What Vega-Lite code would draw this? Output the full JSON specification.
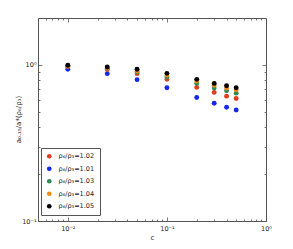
{
  "$schema": "https://vega.github.io/schema/vega-lite/v6.json",
  "autosize": "none",
  "padding": {"left": 38, "top": 18, "right": 27, "bottom": 28},
  "width": 228,
  "height": 203,
  "background": "white",
  "title": {"text": "a₀.₁₅/a*(ρ₆/ρ₃)", "orient": "left", "anchor": "middle", "fontSize": 7, "font": "DejaVu Sans", "fontWeight": "normal", "color": "#222", "offset": 0},
  "config": {
    "view": {"stroke": "#555555", "strokeWidth": 1},
    "font": "DejaVu Sans",
    "axis": {"domain": false, "grid": false, "labelFont": "DejaVu Sans", "titleFont": "DejaVu Sans", "labelFontSize": 6.5, "titleFontSize": 7, "labelColor": "#222", "titleColor": "#222", "titleFontWeight": "normal", "tickColor": "#555555", "tickWidth": 0.8}
  },
  "data": {"values": [
    {"c": 0.01, "series": "ρ₆/ρ₃=1.02", "v": 0.974},
    {"c": 0.025, "series": "ρ₆/ρ₃=1.02", "v": 0.934},
    {"c": 0.05, "series": "ρ₆/ρ₃=1.02", "v": 0.880},
    {"c": 0.1, "series": "ρ₆/ρ₃=1.02", "v": 0.809},
    {"c": 0.2, "series": "ρ₆/ρ₃=1.02", "v": 0.718},
    {"c": 0.3, "series": "ρ₆/ρ₃=1.02", "v": 0.667},
    {"c": 0.4, "series": "ρ₆/ρ₃=1.02", "v": 0.631},
    {"c": 0.5, "series": "ρ₆/ρ₃=1.02", "v": 0.610},
    {"c": 0.01, "series": "ρ₆/ρ₃=1.01", "v": 0.938},
    {"c": 0.025, "series": "ρ₆/ρ₃=1.01", "v": 0.880},
    {"c": 0.05, "series": "ρ₆/ρ₃=1.01", "v": 0.805},
    {"c": 0.1, "series": "ρ₆/ρ₃=1.01", "v": 0.715},
    {"c": 0.2, "series": "ρ₆/ρ₃=1.01", "v": 0.619},
    {"c": 0.3, "series": "ρ₆/ρ₃=1.01", "v": 0.569},
    {"c": 0.4, "series": "ρ₆/ρ₃=1.01", "v": 0.536},
    {"c": 0.5, "series": "ρ₆/ρ₃=1.01", "v": 0.514},
    {"c": 0.01, "series": "ρ₆/ρ₃=1.03", "v": 0.981},
    {"c": 0.025, "series": "ρ₆/ρ₃=1.03", "v": 0.948},
    {"c": 0.05, "series": "ρ₆/ρ₃=1.03", "v": 0.901},
    {"c": 0.1, "series": "ρ₆/ρ₃=1.03", "v": 0.837},
    {"c": 0.2, "series": "ρ₆/ρ₃=1.03", "v": 0.762},
    {"c": 0.3, "series": "ρ₆/ρ₃=1.03", "v": 0.711},
    {"c": 0.4, "series": "ρ₆/ρ₃=1.03", "v": 0.684},
    {"c": 0.5, "series": "ρ₆/ρ₃=1.03", "v": 0.660},
    {"c": 0.01, "series": "ρ₆/ρ₃=1.04", "v": 0.985},
    {"c": 0.025, "series": "ρ₆/ρ₃=1.04", "v": 0.956},
    {"c": 0.05, "series": "ρ₆/ρ₃=1.04", "v": 0.915},
    {"c": 0.1, "series": "ρ₆/ρ₃=1.04", "v": 0.862},
    {"c": 0.2, "series": "ρ₆/ρ₃=1.04", "v": 0.788},
    {"c": 0.3, "series": "ρ₆/ρ₃=1.04", "v": 0.740},
    {"c": 0.4, "series": "ρ₆/ρ₃=1.04", "v": 0.711},
    {"c": 0.5, "series": "ρ₆/ρ₃=1.04", "v": 0.694},
    {"c": 0.01, "series": "ρ₆/ρ₃=1.05", "v": 0.996},
    {"c": 0.025, "series": "ρ₆/ρ₃=1.05", "v": 0.971},
    {"c": 0.05, "series": "ρ₆/ρ₃=1.05", "v": 0.938},
    {"c": 0.1, "series": "ρ₆/ρ₃=1.05", "v": 0.884},
    {"c": 0.2, "series": "ρ₆/ρ₃=1.05", "v": 0.809},
    {"c": 0.3, "series": "ρ₆/ρ₃=1.05", "v": 0.762},
    {"c": 0.4, "series": "ρ₆/ρ₃=1.05", "v": 0.736},
    {"c": 0.5, "series": "ρ₆/ρ₃=1.05", "v": 0.715}
  ]},
  "resolve": {"axis": {"x": "independent", "y": "independent"}},
  "layer": [
    {
      "mark": {"type": "point", "filled": true, "opacity": 1, "size": 24, "shape": "circle"},
      "encoding": {
        "x": {"field": "c", "type": "quantitative",
          "scale": {"type": "log", "domain": [0.005, 1], "nice": false},
          "axis": {"orient": "bottom", "title": "c",
            "values": [0.006, 0.007, 0.008, 0.009, 0.01, 0.02, 0.03, 0.04, 0.05, 0.06, 0.07, 0.08, 0.09, 0.1, 0.2, 0.3, 0.4, 0.5, 0.6, 0.7, 0.8, 0.9, 1],
            "tickSize": {"condition": {"test": "datum.value == 0.01 || datum.value == 0.1 || datum.value == 1", "value": -4}, "value": -2},
            "labelExpr": "datum.value == 0.01 ? '10⁻²' : datum.value == 0.1 ? '10⁻¹' : datum.value == 1 ? '10⁰' : ''",
            "labelPadding": 8, "titleX": 114, "titleY": 16, "titleBaseline": "middle", "labelFlush": false, "labelOverlap": false}},
        "y": {"field": "v", "type": "quantitative",
          "scale": {"type": "log", "domain": [0.1, 2], "nice": false},
          "axis": {"orient": "left", "title": null,
            "values": [0.1, 0.2, 0.3, 0.4, 0.5, 0.6, 0.7, 0.8, 0.9, 1],
            "tickSize": {"condition": {"test": "datum.value == 0.1 || datum.value == 1", "value": -4}, "value": -2},
            "labelExpr": "datum.value == 0.1 ? '10⁻¹' : datum.value == 1 ? '10⁰' : ''",
            "labelPadding": 6, "labelFlush": false, "labelOverlap": false}},
        "color": {"field": "series", "type": "nominal",
          "scale": {"domain": ["ρ₆/ρ₃=1.02", "ρ₆/ρ₃=1.01", "ρ₆/ρ₃=1.03", "ρ₆/ρ₃=1.04", "ρ₆/ρ₃=1.05"],
                    "range": ["#e23d1b", "#1428f0", "#2e8b57", "#f28a0c", "#000000"]},
          "legend": {"orient": "none", "legendX": 3, "legendY": 130, "title": null,
            "strokeColor": "#555555", "fillColor": "white", "padding": 5, "cornerRadius": 0,
            "symbolType": "circle", "symbolSize": 22, "symbolStrokeWidth": 0,
            "labelFontSize": 6.5, "labelFont": "DejaVu Sans", "labelColor": "#222", "rowPadding": 5.5, "labelOffset": 6}},
        "order": {"field": "series", "type": "nominal"}
      }
    },
    {
      "mark": {"type": "point", "opacity": 0},
      "encoding": {
        "x": {"field": "c", "type": "quantitative",
          "axis": {"orient": "top", "title": null, "labels": false,
            "values": [0.006, 0.007, 0.008, 0.009, 0.01, 0.02, 0.03, 0.04, 0.05, 0.06, 0.07, 0.08, 0.09, 0.1, 0.2, 0.3, 0.4, 0.5, 0.6, 0.7, 0.8, 0.9],
            "tickSize": {"condition": {"test": "datum.value == 0.01 || datum.value == 0.1", "value": -4}, "value": -2}}},
        "y": {"field": "v", "type": "quantitative",
          "axis": {"orient": "right", "title": null, "labels": false,
            "values": [0.2, 0.3, 0.4, 0.5, 0.6, 0.7, 0.8, 0.9, 1],
            "tickSize": {"condition": {"test": "datum.value == 1", "value": -4}, "value": -2}}}
      }
    }
  ]
}
